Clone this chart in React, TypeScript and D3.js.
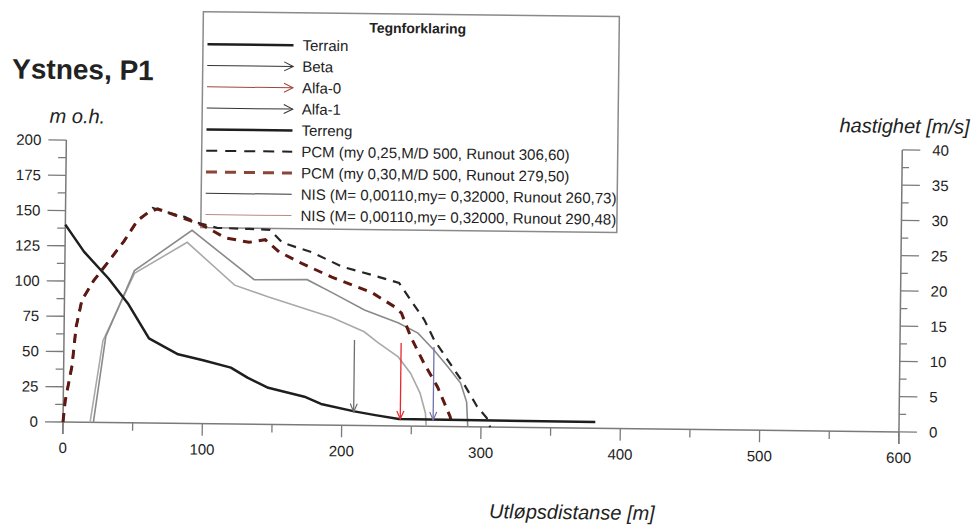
import React from 'react';
import * as d3 from 'd3';

// terrain profile: [distance m, height m o.h.]
const terrain: [number, number][] = [
  [0, 140], [13.6, 121], [31.6, 102], [46, 84], [61, 60], [82, 49], [100, 45],
  [120, 40], [132, 33], [147, 26], [160, 23], [173, 20], [185, 15], [209, 10],
  [224, 7.5], [241, 5], [382, 4.5],
];

// velocity curves: [distance m, speed m/s]
const pcmRise: [number, number][] = [
  [0, 0], [1.4, 3], [6, 8], [8.6, 13.5], [12.5, 17.3], [20.8, 20.1], [30, 22.5],
  [42.4, 25.8], [51.7, 28.7], [58.9, 29.8],
];
const pcm025: [number, number][] = [
  ...pcmRise,
  [62.5, 30.5], [69.6, 30.1], [85.4, 29.3], [94.8, 28.5], [109, 27.8], [132, 27.7],
  [147, 27.6], [156, 25.8], [177, 24.5], [199, 22.5], [220, 21.4], [240, 20.3],
  [247, 18.3], [258.4, 15.1], [265.6, 12.3], [275.7, 9.4], [287, 6.2], [297, 2.9],
  [304, 1.3], [306.6, 0],
];
const pcm030: [number, number][] = [
  ...pcmRise,
  [66, 30.4], [79, 29.5], [98, 28.2], [115, 26.4], [132, 25.8], [143.6, 26.2],
  [153.6, 24.5], [170, 22.9], [191.7, 21.0], [220.4, 18.9], [237, 16.9], [242, 16],
  [249, 12.6], [258.4, 9.0], [268.5, 5.6], [277.8, 1.4], [279.5, 0],
];
const nis26073: [number, number][] = [
  [19.4, 0], [28, 11.6], [50, 21.2], [87.6, 25.7], [122, 19.7], [146, 18.1],
  [191.7, 15.3], [215.4, 13.3], [225.4, 11.8], [240, 9.8], [249, 7.5], [256, 4.7],
  [260, 1.9], [260.7, 0],
];
const nis29048: [number, number][] = [
  [21.8, 0], [30, 12.2], [50, 21.6], [91, 27.4], [136, 20.5], [174, 20.6],
  [192, 18.8], [215.4, 16.4], [240, 14.6], [254, 13.2], [265.7, 10.8],
  [275.7, 8.5], [285, 6.2], [289.5, 3.5], [290.5, 0],
];

// angle arrows (distance, top height, terrain height)
const arrowNames = ['Beta', 'Alfa-0', 'Alfa-1'];
const arrowDist = [208.5, 242, 265.6];
const arrowTop = [60.6, 58.9, 56.3];
const arrowBase = [9.8, 5, 4.6];

const xTicks = [0, 100, 200, 300, 400, 500, 600];
const leftTicks = [0, 25, 50, 75, 100, 125, 150, 175, 200];
const rightTicks = [0, 5, 10, 15, 20, 25, 30, 35, 40];

const legendLabels = [
  'Terrain',
  'Beta',
  'Alfa-0',
  'Alfa-1',
  'Terreng',
  'PCM (my 0,25,M/D 500, Runout 306,60)',
  'PCM (my 0,30,M/D 500, Runout 279,50)',
  'NIS (M= 0,00110,my= 0,32000, Runout 260,73)',
  'NIS (M= 0,00110,my= 0,32000, Runout 290,48)',
];

const FONT = '"Liberation Sans", Arial, sans-serif';
const AXIS = '#7a7a7a';
const TXT = '#222';

// legend sample styles, same order as labels
const legendStyle = [
  { kind: 'line', color: '#1e1e1e', w: 2.5 },
  { kind: 'arrow', color: '#333', w: 1 },
  { kind: 'arrow', color: '#a0463c', w: 1 },
  { kind: 'arrow', color: '#333', w: 1 },
  { kind: 'line', color: '#1e1e1e', w: 2.5 },
  { kind: 'dash', color: '#222', w: 2 },
  { kind: 'dash', color: '#8a4536', w: 3 },
  { kind: 'line', color: '#333', w: 1 },
  { kind: 'line', color: '#b88a8a', w: 1 },
];

const arrowColor = ['#6e6e6e', '#e8282e', '#7072a8'];

const App = () => {
  const width = 973;
  const height = 529;

  const x = d3.scaleLinear().domain([0, 600]).range([63, 899]);
  const yL = d3.scaleLinear().domain([0, 200]).range([422, 140]);
  const yR = d3.scaleLinear().domain([0, 40]).range([422, 140]);

  const lineL = d3.line<[number, number]>().x(d => x(d[0])).y(d => yL(d[1]));
  const lineR = d3.line<[number, number]>().x(d => x(d[0])).y(d => yR(d[1]));

  const minorL = d3.range(0, 200.1, 12.5);
  const minorR = d3.range(0, 40.1, 2.5);
  const minorX = d3.range(0, 600.1, 50);

  // legend box
  const lg = { x: 198.5, y: 10, w: 416, h: 216 };
  const rowY = (i: number) => 42.5 + i * 21.3;
  const sx0 = 203;
  const sx1 = 289;

  return (
    <svg width={width} height={height} style={{ position: 'absolute', left: 0, top: 0, background: '#fff' }}>
      <rect width={width} height={height} fill="#fff" />
      <g transform="rotate(0.68 62 422)" fontFamily={FONT}>
        {/* title */}
        <text x={8} y={79} fontSize={28} fontWeight="bold" fill={TXT}>Ystnes, P1</text>

        {/* axis titles */}
        <text x={46} y={123} fontSize={20} fontStyle="italic" fill={TXT}>m o.h.</text>
        <text x={966} y={123} fontSize={20} fontStyle="italic" fill={TXT} textAnchor="end">hastighet [m/s]</text>
        <text x={573} y={513} fontSize={20} fontStyle="italic" fill={TXT} textAnchor="middle">Utløpsdistanse [m]</text>

        {/* left axis */}
        <line x1={x(0)} x2={x(0)} y1={yL(200)} y2={434} stroke={AXIS} strokeWidth={1.5} />
        {minorL.map(v => (
          <line key={'ml' + v} x1={v % 25 === 0 ? x(0) - 18 : x(0) - 8} x2={x(0)} y1={yL(v)} y2={yL(v)}
            stroke={AXIS} strokeWidth={1.3} />
        ))}
        {leftTicks.map(v => (
          <text key={'tl' + v} x={38} y={yL(v)} dy="0.35em" fontSize={15} textAnchor="end" fill={TXT}>{v}</text>
        ))}

        {/* right axis */}
        <line x1={x(600)} x2={x(600)} y1={yR(40)} y2={434} stroke={AXIS} strokeWidth={1.5} />
        {minorR.map(v => (
          <line key={'mr' + v} x1={x(600)} x2={v % 5 === 0 ? x(600) + 18 : x(600) + 7} y1={yR(v)} y2={yR(v)}
            stroke={AXIS} strokeWidth={1.3} />
        ))}
        {rightTicks.map(v => (
          <text key={'tr' + v} x={x(600) + 30} y={yR(v)} dy="0.35em" fontSize={15} fill={TXT}>{v}</text>
        ))}

        {/* x axis */}
        <line x1={x(0)} x2={x(600)} y1={yL(0)} y2={yL(0)} stroke={AXIS} strokeWidth={1.5} />
        {minorX.map(v => (
          <line key={'mx' + v} x1={x(v)} x2={x(v)} y1={yL(0)} y2={yL(0) + (v % 100 === 0 ? 12 : 8)}
            stroke={AXIS} strokeWidth={1.3} />
        ))}
        {xTicks.map(v => (
          <text key={'tx' + v} x={x(v)} y={453} fontSize={15} textAnchor="middle" fill={TXT}>{v}</text>
        ))}

        {/* legend */}
        <rect x={lg.x} y={lg.y} width={lg.w} height={lg.h} fill="#fff" stroke="#8a8a8a" strokeWidth={1.5} />
        <text x={413} y={29} fontSize={14} fontWeight="bold" textAnchor="middle" fill={TXT}>Tegnforklaring</text>
        {legendLabels.map((label, i) => {
          const st = legendStyle[i];
          const yy = rowY(i);
          return (
            <g key={'lg' + i}>
              <line x1={sx0} x2={sx1} y1={yy} y2={yy} stroke={st.color} strokeWidth={st.w}
                strokeDasharray={st.kind === 'dash' ? '11 8' : undefined} />
              {st.kind === 'arrow' && (
                <polyline points={`${sx1 - 9},${yy - 4.5} ${sx1},${yy} ${sx1 - 9},${yy + 4.5}`}
                  fill="none" stroke={st.color} strokeWidth={1} />
              )}
              <text x={298} y={yy} dy="0.35em" fontSize={15} fill={TXT}>{label}</text>
            </g>
          );
        })}

        {/* NIS curves */}
        <path d={lineR(nis26073) || ''} fill="none" stroke="#a9a9a9" strokeWidth={1.6} />
        <path d={lineR(nis29048) || ''} fill="none" stroke="#8a8a8a" strokeWidth={1.6} />

        {/* PCM curves */}
        <path d={lineR(pcm025) || ''} fill="none" stroke="#262626" strokeWidth={2.2} strokeDasharray="9 7" />
        <path d={lineR(pcm030) || ''} fill="none" stroke="#5e1a12" strokeWidth={3} strokeDasharray="9 7" />

        {/* terrain */}
        <path d={lineL(terrain) || ''} fill="none" stroke="#1e1e1e" strokeWidth={2.5} strokeLinejoin="round" />

        {/* arrows */}
        {arrowNames.map((name, i) => {
          const ax = x(arrowDist[i]);
          const y1 = yL(arrowTop[i]);
          const y2 = yL(arrowBase[i]);
          return (
            <g key={name}>
              <line x1={ax} x2={ax} y1={y1} y2={y2} stroke={arrowColor[i]} strokeWidth={1.3} />
              <polyline points={`${ax - 3.5},${y2 - 8} ${ax},${y2} ${ax + 3.5},${y2 - 8}`}
                fill="none" stroke={arrowColor[i]} strokeWidth={1.2} />
            </g>
          );
        })}
      </g>
    </svg>
  );
};

export default App;
